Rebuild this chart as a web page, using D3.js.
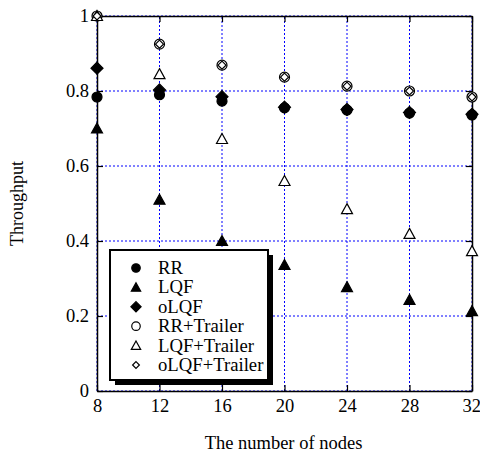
<!DOCTYPE html>
<html>
<head>
<meta charset="utf-8">
<script src="https://cdn.jsdelivr.net/npm/d3@7"></script>
<style>
  body { margin: 0; background: #fff; }
  svg { display: block; }
  text { font-family: "Liberation Serif", "Times New Roman", serif; fill: #000; }
</style>
</head>
<body>
<svg id="chart" width="480" height="457"></svg>
<script>
// Throughput versus number of nodes for six scheduling schemes
const nodes = [8, 12, 16, 20, 24, 28, 32];
const xTicks = [8, 12, 16, 20, 24, 28, 32];
const yTicks = [0, 0.2, 0.4, 0.6, 0.8, 1];
const yTickLabels = ["0", "0.2", "0.4", "0.6", "0.8", "1"];

const rr          = [0.784, 0.790, 0.773, 0.755, 0.749, 0.741, 0.736];
const lqf         = [0.700, 0.510, 0.400, 0.336, 0.277, 0.243, 0.213];
const olqf        = [0.861, 0.803, 0.785, 0.757, 0.751, 0.743, 0.738];
const rrTrailer   = [1.000, 0.925, 0.869, 0.837, 0.813, 0.800, 0.784];
const lqfTrailer  = [1.000, 0.845, 0.672, 0.560, 0.485, 0.419, 0.373];
const olqfTrailer = [1.000, 0.925, 0.869, 0.837, 0.813, 0.800, 0.784];

const seriesNames = ["RR", "LQF", "oLQF", "RR+Trailer", "LQF+Trailer", "oLQF+Trailer"];
const seriesValues = [rr, lqf, olqf, rrTrailer, lqfTrailer, olqfTrailer];
const seriesShapes = ["circle", "triangle", "diamond", "circle", "triangle", "diamond"];
const seriesFilled = [true, true, true, false, false, false];

const svg = d3.select("#chart");
const margin = { left: 97, right: 8, top: 16, bottom: 66 };
const W = 480, H = 457;
const x = d3.scaleLinear().domain([8, 32]).range([margin.left, W - margin.right]);
const y = d3.scaleLinear().domain([0, 1]).range([H - margin.bottom, margin.top]);
const x0 = x.range()[0], x1 = x.range()[1], y0 = y.range()[0], y1 = y.range()[1];

// dotted blue grid
const grid = svg.append("g");
grid.selectAll("line.v").data(xTicks).join("line")
  .attr("x1", d => x(d)).attr("x2", d => x(d)).attr("y1", y0).attr("y2", y1)
  .attr("stroke", "#0000ff").attr("stroke-width", 1).attr("stroke-dasharray", "2,2");
grid.selectAll("line.h").data(yTicks).join("line")
  .attr("x1", x0).attr("x2", x1).attr("y1", d => y(d)).attr("y2", d => y(d))
  .attr("stroke", "#0000ff").attr("stroke-width", 1).attr("stroke-dasharray", "2,2");

// axes with inward ticks
const xAxis = svg.append("g").attr("transform", `translate(0,${y0})`)
  .call(d3.axisBottom(x).tickValues(xTicks).tickSizeInner(-6).tickSizeOuter(0).tickPadding(8));
const xTop = svg.append("g").attr("transform", `translate(0,${y1})`)
  .call(d3.axisTop(x).tickValues(xTicks).tickSizeInner(-6).tickSizeOuter(0).tickFormat(""));
const yAxis = svg.append("g").attr("transform", `translate(${x0},0)`)
  .call(d3.axisLeft(y).tickValues(yTicks).tickSizeInner(-6).tickSizeOuter(0).tickPadding(8)
    .tickFormat((d, i) => yTickLabels[i]));
const yRight = svg.append("g").attr("transform", `translate(${x1},0)`)
  .call(d3.axisRight(y).tickValues(yTicks).tickSizeInner(-6).tickSizeOuter(0).tickFormat(""));
[xAxis, xTop, yAxis, yRight].forEach(g => {
  g.selectAll(".domain").attr("stroke", "#000").attr("stroke-width", 1.5);
  g.selectAll(".tick line").attr("stroke", "#000").attr("stroke-width", 1.2);
  g.selectAll("text").style("font-family", "'Liberation Serif', serif").style("font-size", "18.5px").attr("fill", "#000");
});
// keep the last x label inside the page edge
xAxis.selectAll(".tick text").filter(d => d === 32).attr("text-anchor", "end").attr("x", 8.5);

// marker drawing
function drawMarker(g, shape, filled, cx, cy, scale) {
  const s = scale || 1;
  const fill = filled ? "#000" : "#fff";
  const stroke = "#000";
  if (shape === "circle") {
    g.append("circle").attr("cx", cx).attr("cy", cy).attr("r", 5 * s)
      .attr("fill", fill).attr("stroke", stroke).attr("stroke-width", 1.2);
  } else if (shape === "triangle") {
    const h = 10 * s, w = 11 * s;
    g.append("path")
      .attr("d", `M${cx},${cy - h * 0.55} L${cx + w / 2},${cy + h * 0.45} L${cx - w / 2},${cy + h * 0.45} Z`)
      .attr("fill", fill).attr("stroke", stroke).attr("stroke-width", 1.2);
  } else {
    const r = (filled ? 6 : 4) * s;
    g.append("path")
      .attr("d", `M${cx},${cy - r} L${cx + r},${cy} L${cx},${cy + r} L${cx - r},${cy} Z`)
      .attr("fill", fill).attr("stroke", stroke).attr("stroke-width", 1.2);
  }
}

const marks = svg.append("g");
seriesValues.forEach((vals, si) => {
  const g = marks.append("g");
  vals.forEach((v, i) => drawMarker(g, seriesShapes[si], seriesFilled[si], x(nodes[i]), y(v)));
});

// legend with drop shadow
const lg = svg.append("g");
const lx = 110, ly = 250, lw = 158, lh = 130;
lg.append("rect").attr("x", lx + 5).attr("y", ly + 5).attr("width", lw).attr("height", lh).attr("fill", "#000");
lg.append("rect").attr("x", lx).attr("y", ly).attr("width", lw).attr("height", lh)
  .attr("fill", "#fff").attr("stroke", "#000").attr("stroke-width", 2);
seriesNames.forEach((name, i) => {
  const cy = 268 + i * 19.4;
  drawMarker(lg, seriesShapes[i], seriesFilled[i], 136, cy, 0.85);
  lg.append("text").attr("x", 158).attr("y", cy + 6).style("font-size", "18.7px").text(name);
});

// axis titles
svg.append("text").attr("x", (x0 + x1) / 2 - 1).attr("y", 449).attr("text-anchor", "middle")
  .style("font-size", "18.5px").text("The number of nodes");
svg.append("text").attr("transform", `translate(23,${(y0 + y1) / 2}) rotate(-90)`)
  .attr("text-anchor", "middle").style("font-size", "18px").text("Throughput");
</script>
</body>
</html>
